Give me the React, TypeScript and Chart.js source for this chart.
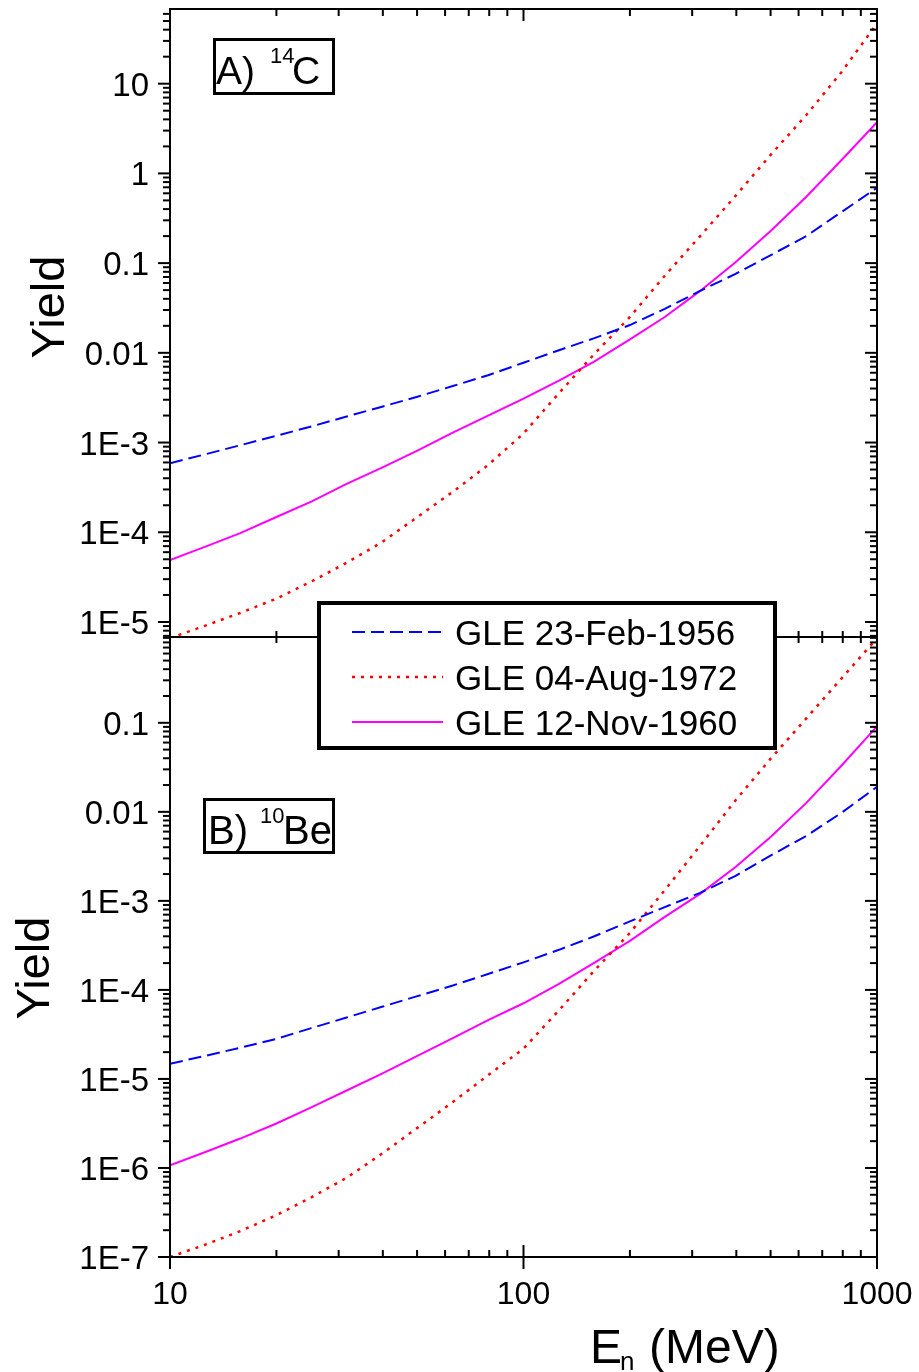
import React, { useEffect, useRef } from "react";
import { Chart, registerables } from "chart.js";

Chart.register(...registerables);

// Neutron energy grid (MeV)
const energies = [10, 12.6, 15.8, 20, 25.1, 31.6, 39.8, 50.1, 63.1, 79.4, 100, 126, 158, 200, 251, 316, 398, 501, 631, 794, 1000];

// Panel A: 14C yield
const c14Feb1956 = [5.89e-4, 7.41e-4, 9.33e-4, 1.19e-3, 1.51e-3, 1.95e-3, 2.51e-3, 3.24e-3, 4.27e-3, 5.62e-3, 7.76e-3, 0.0107, 0.0145, 0.0204, 0.0309, 0.049, 0.0759, 0.123, 0.2, 0.372, 0.692];
const c14Aug1972 = [6.61e-6, 9.12e-6, 1.26e-5, 1.82e-5, 2.82e-5, 4.57e-5, 7.76e-5, 1.48e-4, 2.82e-4, 5.62e-4, 1.26e-3, 3.55e-3, 9.55e-3, 0.0251, 0.0724, 0.2, 0.562, 1.62, 4.47, 13.5, 47.0];
const c14Nov1960 = [4.9e-5, 6.92e-5, 9.77e-5, 1.48e-4, 2.19e-4, 3.47e-4, 5.25e-4, 8.13e-4, 1.29e-3, 2.0e-3, 3.09e-3, 4.9e-3, 7.94e-3, 0.0141, 0.0251, 0.049, 0.102, 0.229, 0.55, 1.41, 3.72];

// Panel B: 10Be yield
const be10Feb1956 = [1.48e-5, 1.82e-5, 2.24e-5, 2.82e-5, 3.72e-5, 4.9e-5, 6.46e-5, 8.51e-5, 1.12e-4, 1.51e-4, 2.04e-4, 2.82e-4, 3.98e-4, 5.89e-4, 8.51e-4, 1.23e-3, 1.91e-3, 3.24e-3, 5.37e-3, 9.77e-3, 0.0191];
const be10Aug1972 = [1.0e-7, 1.38e-7, 1.95e-7, 2.95e-7, 4.68e-7, 7.76e-7, 1.45e-6, 2.82e-6, 5.5e-6, 1.1e-5, 2.19e-5, 5.89e-5, 1.62e-4, 4.37e-4, 1.32e-3, 4.17e-3, 0.0135, 0.0398, 0.112, 0.316, 0.891];
const be10Nov1960 = [1.07e-6, 1.51e-6, 2.14e-6, 3.16e-6, 4.79e-6, 7.41e-6, 1.15e-5, 1.82e-5, 2.88e-5, 4.57e-5, 7.08e-5, 1.17e-4, 2.0e-4, 3.55e-4, 6.61e-4, 1.2e-3, 2.4e-3, 5.25e-3, 0.0126, 0.0331, 0.0912];

const seriesLabels = ["GLE 23-Feb-1956", "GLE 04-Aug-1972", "GLE 12-Nov-1960"];
const seriesColors = ["#0000FF", "#FF0000", "#FF00FF"];
const seriesDashes = [[13, 6], [3, 6], []];
const seriesWidths = [2, 2.5, 2];

const xTickValues = [10, 100, 1000];
const xTickLabels = ["10", "100", "1000"];
const yTopTickValues = [1e-5, 1e-4, 1e-3, 0.01, 0.1, 1, 10];
const yTopTickLabels = ["1E-5", "1E-4", "1E-3", "0.01", "0.1", "1", "10"];
const yBottomTickValues = [1e-7, 1e-6, 1e-5, 1e-4, 1e-3, 0.01, 0.1];
const yBottomTickLabels = ["1E-7", "1E-6", "1E-5", "1E-4", "1E-3", "0.01", "0.1"];

const FONT = '"Liberation Sans", Arial, Helvetica, sans-serif';

function logTicks(min: number, max: number) {
  const out: { v: number; major: boolean }[] = [];
  const e0 = Math.floor(Math.log10(min));
  const e1 = Math.ceil(Math.log10(max));
  for (let e = e0; e <= e1; e++) {
    for (let m = 1; m <= 9; m++) {
      const v = m * Math.pow(10, e);
      if (v >= min * 0.9999 && v <= max * 1.0001) out.push({ v, major: m === 1 });
    }
  }
  return out;
}

function line(ctx: CanvasRenderingContext2D, x1: number, y1: number, x2: number, y2: number) {
  ctx.beginPath();
  ctx.moveTo(x1, y1);
  ctx.lineTo(x2, y2);
  ctx.stroke();
}

const clipPlugin = {
  id: "panelClip",
  beforeDatasetDraw(chart: any, args: any) {
    const meta = chart.getDatasetMeta(args.index);
    const ys = chart.scales[meta.yAxisID];
    const ctx = chart.ctx;
    ctx.save();
    ctx.beginPath();
    ctx.rect(chart.chartArea.left, ys.top, chart.chartArea.right - chart.chartArea.left, ys.bottom - ys.top);
    ctx.clip();
  },
  afterDatasetDraw(chart: any) {
    chart.ctx.restore();
  },
};

const decorPlugin = {
  id: "decor",
  afterDraw(chart: any) {
    const ctx: CanvasRenderingContext2D = chart.ctx;
    const xs = chart.scales.x;
    const yA = chart.scales.yA;
    const yB = chart.scales.yB;
    const L = xs.left, R = xs.right;
    const T = yA.top, M = yA.bottom, B = yB.bottom;
    ctx.save();
    ctx.strokeStyle = "#000";
    ctx.fillStyle = "#000";
    ctx.lineWidth = 2;
    ctx.lineCap = "butt";

    // frame
    line(ctx, L - 1, T, R + 1, T);
    line(ctx, L - 1, M, R + 1, M);
    line(ctx, L - 1, B, R + 1, B);
    line(ctx, L, T - 1, L, B + 1);
    line(ctx, R, T - 1, R, B + 1);

    // y ticks
    for (const s of [yA, yB]) {
      for (const t of logTicks(s.min, s.max)) {
        const y = s.getPixelForValue(t.v);
        const len = t.major ? 12 : 7;
        line(ctx, L - len, y, L, y);
        line(ctx, R - len, y, R, y);
      }
    }
    // x ticks
    for (const t of logTicks(xs.min, xs.max)) {
      const x = xs.getPixelForValue(t.v);
      const len = t.major ? 12 : 7;
      line(ctx, x, T, x, T + len);
      line(ctx, x, M - (t.major ? 10 : 6), x, M + (t.major ? 10 : 6));
      line(ctx, x, B - len, x, B);
      if (t.major) line(ctx, x, B, x, B + 12);
    }

    // tick labels
    ctx.font = `33px ${FONT}`;
    ctx.textAlign = "right";
    ctx.textBaseline = "alphabetic";
    yTopTickValues.forEach((v, i) => {
      const y = yA.getPixelForValue(v);
      ctx.fillText(yTopTickLabels[i], L - 21, y + 12);
    });
    yBottomTickValues.forEach((v, i) => {
      const y = yB.getPixelForValue(v);
      ctx.fillText(yBottomTickLabels[i], L - 21, y + 12);
    });
    ctx.font = `32px ${FONT}`;
    ctx.textAlign = "center";
    xTickValues.forEach((v, i) => {
      const x = xs.getPixelForValue(v);
      ctx.fillText(xTickLabels[i], x, B + 47);
    });

    // axis titles
    ctx.font = `47px ${FONT}`;
    ctx.textAlign = "center";
    const drawYield = (cx: number, cy: number) => {
      ctx.save();
      ctx.translate(cx + 17, cy);
      ctx.rotate(-Math.PI / 2);
      ctx.fillText("Yield", 0, 0);
      ctx.restore();
    };
    drawYield(47, (yA.top + yA.bottom) / 2 - 16);
    drawYield(32, (yB.top + yB.bottom) / 2 + 21);

    ctx.textAlign = "left";
    ctx.font = `48px ${FONT}`;
    ctx.fillText("E", 590, B + 106);
    ctx.font = `26px ${FONT}`;
    ctx.fillText("n", 620, B + 113);
    ctx.font = `48px ${FONT}`;
    ctx.fillText("(MeV)", 649, B + 106);

    // panel labels
    ctx.lineWidth = 3;
    ctx.strokeRect(214.5, 39.5, 119, 54);
    ctx.font = `39px ${FONT}`;
    ctx.fillText("A)", 216, 84);
    ctx.font = `22px ${FONT}`;
    ctx.fillText("14", 270, 63);
    ctx.font = `39px ${FONT}`;
    ctx.fillText("C", 292, 84);

    ctx.strokeRect(204.5, 799.5, 129, 53);
    ctx.font = `40px ${FONT}`;
    ctx.fillText("B)", 208, 844);
    ctx.font = `22px ${FONT}`;
    ctx.fillText("10", 260, 823);
    ctx.font = `40px ${FONT}`;
    ctx.fillText("Be", 283, 844);

    // legend
    ctx.fillStyle = "#fff";
    ctx.fillRect(317, 601, 460, 149);
    ctx.lineWidth = 4;
    ctx.strokeStyle = "#000";
    ctx.strokeRect(319, 603, 456, 145);
    const rows = [632, 677, 722];
    seriesLabels.forEach((lab, i) => {
      ctx.save();
      ctx.strokeStyle = seriesColors[i];
      ctx.lineWidth = seriesWidths[i];
      ctx.setLineDash(seriesDashes[i]);
      line(ctx, 352, rows[i], 443, rows[i]);
      ctx.restore();
      ctx.fillStyle = "#000";
      ctx.font = `35px ${FONT}`;
      ctx.textAlign = "left";
      ctx.fillText(lab, 455, rows[i] + 12.5);
    });
    ctx.restore();
  },
};

function makeData(vals: number[]) {
  return energies.map((e, i) => ({ x: e, y: vals[i] }));
}

export default function App() {
  const ref = useRef<HTMLCanvasElement>(null);
  useEffect(() => {
    if (!ref.current) return;
    const panelA = [c14Feb1956, c14Aug1972, c14Nov1960];
    const panelB = [be10Feb1956, be10Aug1972, be10Nov1960];
    const datasets: any[] = [];
    [panelA, panelB].forEach((panel, p) => {
      panel.forEach((vals, i) => {
        datasets.push({
          label: seriesLabels[i] + (p === 0 ? " (14C)" : " (10Be)"),
          data: makeData(vals),
          yAxisID: p === 0 ? "yA" : "yB",
          borderColor: seriesColors[i],
          borderWidth: seriesWidths[i],
          borderDash: seriesDashes[i],
          pointRadius: 0,
          tension: 0,
          fill: false,
        });
      });
    });
    const chart = new Chart(ref.current, {
      type: "line",
      data: { datasets },
      options: {
        animation: false,
        responsive: false,
        devicePixelRatio: 1,
        layout: { autoPadding: false, padding: { left: 170, right: 42, top: 9, bottom: 115 } },
        plugins: { legend: { display: false }, tooltip: { enabled: false }, title: { display: false } },
        scales: {
          x: { type: "logarithmic", min: 10, max: 1000, display: false },
          yB: { type: "logarithmic", position: "left", stack: "panels", stackWeight: 620, weight: 1, min: 1e-7, max: 0.92, display: false },
          yA: { type: "logarithmic", position: "left", stack: "panels", stackWeight: 628, weight: 2, min: 6.8e-6, max: 68, display: false },
        },
      },
      plugins: [clipPlugin, decorPlugin],
    } as any);
    return () => chart.destroy();
  }, []);
  return (
    <div style={{ position: "absolute", left: 0, top: 0, width: 919, height: 1372, background: "#fff" }}>
      <canvas ref={ref} width={919} height={1372} style={{ display: "block", width: 919, height: 1372 }} />
    </div>
  );
}
